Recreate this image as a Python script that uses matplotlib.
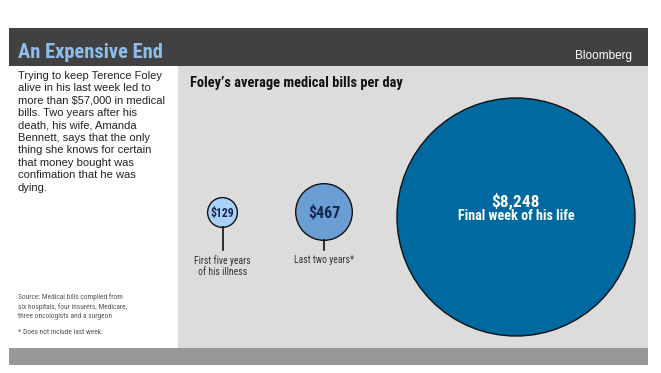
import matplotlib
matplotlib.use('Agg')
import matplotlib.pyplot as plt
from matplotlib.patches import Rectangle, Circle
import numpy as np

# data
labels = ['First five years\nof his illness', 'Last two years*', '']
values = [129, 467, 8248]
value_text = ['$129', '$467', '$8,248']
colors = ['#a9d1f7', '#6a9fd6', '#006aa0']
text_colors = ['#16264d', '#16264d', 'white']

narrow = 'Roboto Condensed'
plain = 'Liberation Sans'

W, H = 661, 373
fig = plt.figure(figsize=(W / 100, H / 100), dpi=100)
ax = fig.add_axes([0, 0, 1, 1])
ax.set_xlim(0, W)
ax.set_ylim(H, 0)
ax.axis('off')

# background blocks
ax.add_patch(Rectangle((9, 28), 639, 38, color='#414141', lw=0))
ax.add_patch(Rectangle((178, 66), 470, 282, color='#dcdcdc', lw=0))
ax.add_patch(Rectangle((9, 348), 639, 17, color='#989898', lw=0))

ax.text(18, 53, 'An Expensive End', color='#8dbde9', fontsize=14.8,
        fontweight='bold', family=narrow, va='center', ha='left')
ax.text(632, 56, 'Bloomberg', color='white', fontsize=8.5,
        family=plain, va='center', ha='right')

intro = ('Trying to keep Terence Foley\nalive in his last week led to\n'
         'more than $57,000 in medical\nbills. Two years after his\n'
         'death, his wife, Amanda\nBennett, says that the only\n'
         'thing she knows for certain\nthat money bought was\n'
         'confimation that he was\ndying.')
ax.text(18, 71, intro, color='#222222', fontsize=8.0, family=plain,
        va='top', ha='left', linespacing=1.3)

ax.text(18, 293, 'Source: Medical bills compiled from\nsix hospitals, four insurers, Medicare,\n'
        'three oncologists and a surgeon', color='#555555', fontsize=5.3,
        family=narrow, va='top', ha='left', linespacing=1.45)
ax.text(18, 329, '* Does not include last week.', color='#555555', fontsize=5.3,
        family=narrow, va='top', ha='left')

ax.text(190, 83, "Foley\u2019s average medical bills per day", color='#111111',
        fontsize=10.4, fontweight='bold', family=narrow, va='center', ha='left')

# circles, area proportional to value
k = 119 / np.sqrt(values[2])
centers = [(222.5, 212.5), (324, 212), (516, 217)]
fsizes = [8.5, 11.5, 12.5]
for i, v in enumerate(values):
    r = k * np.sqrt(v)
    cx, cy = centers[i]
    ax.add_patch(Circle((cx, cy), r, facecolor=colors[i], edgecolor='#111111', lw=1))
    if i < 2:
        ax.text(cx, cy + 0.5, value_text[i], color=text_colors[i], fontsize=fsizes[i],
                fontweight='bold', family=narrow, ha='center', va='center')
        ax.plot([cx, cx], [cy + r, 250], color='#111111', lw=1.2)
        ax.text(cx, 255, labels[i], color='#333333', fontsize=7, family=narrow,
                ha='center', va='top', linespacing=1.1)
    else:
        ax.text(cx, cy - 16, value_text[i], color='white', fontsize=fsizes[i],
                fontweight='bold', family=narrow, ha='center', va='center')
        ax.text(cx, cy - 0.5, 'Final week of his life', color='white', fontsize=10.2,
                fontweight='bold', family=narrow, ha='center', va='center')

fig.savefig('out.png', dpi=100, facecolor='white')
